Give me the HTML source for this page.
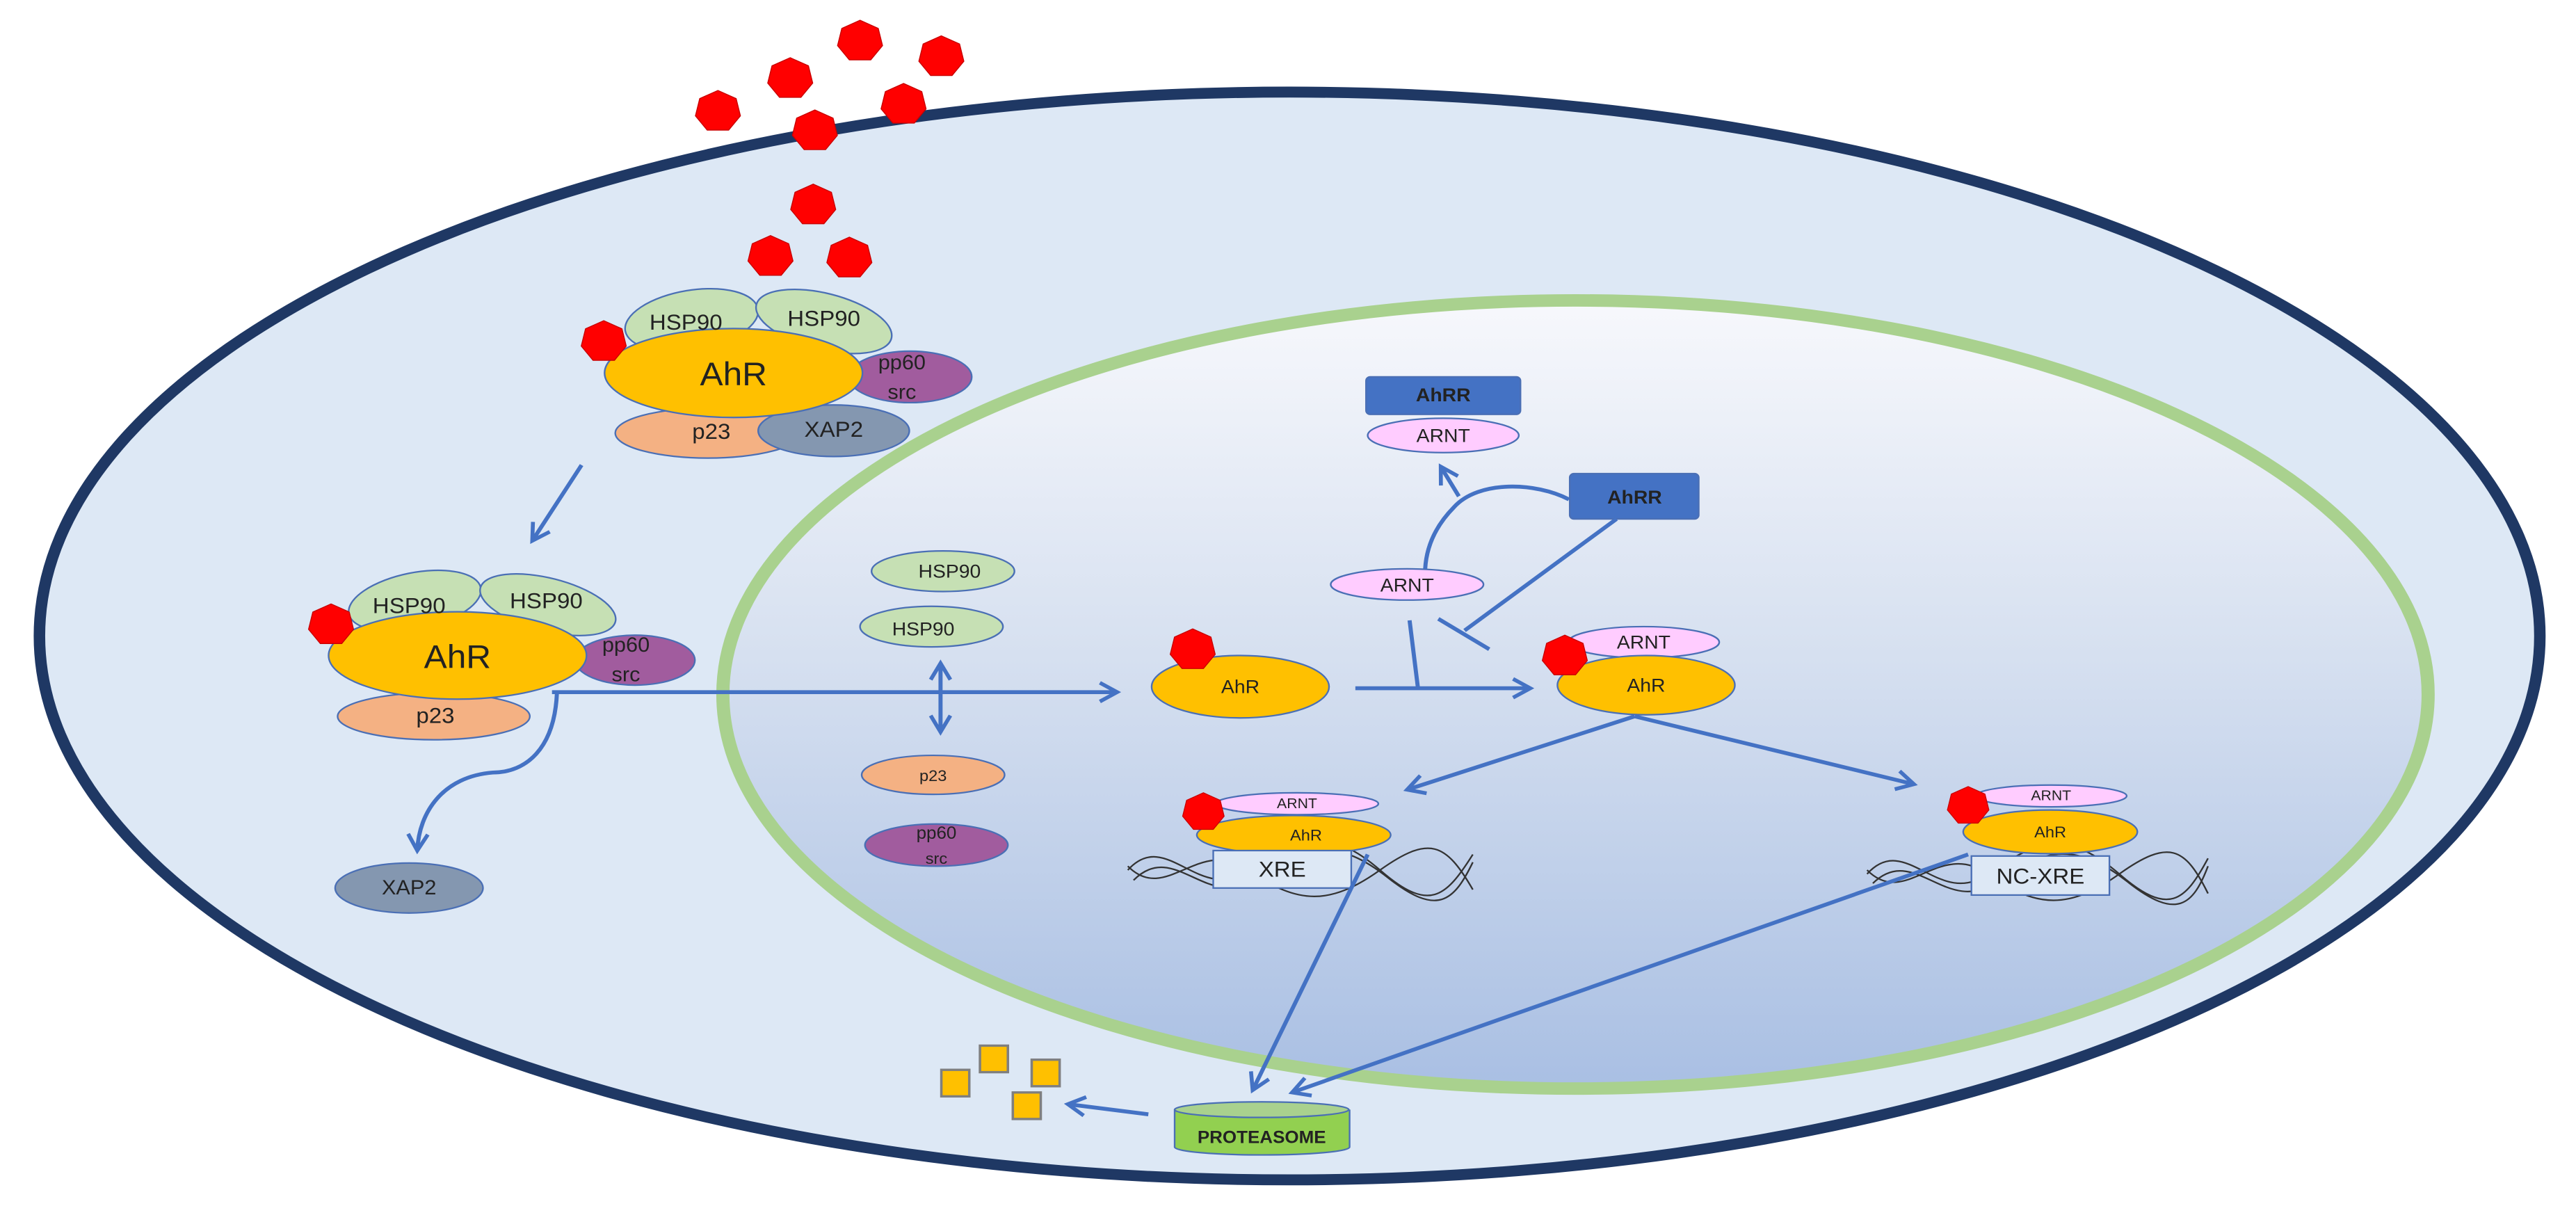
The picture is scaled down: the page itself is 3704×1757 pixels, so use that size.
<!DOCTYPE html>
<html><head><meta charset="utf-8"><style>html,body{margin:0;padding:0;background:#fff}svg{display:block}text{font-family:"Liberation Sans",sans-serif;text-anchor:middle;dominant-baseline:central;fill:#222}</style></head><body>
<svg width="3704" height="1757" viewBox="0 0 3136 1566" preserveAspectRatio="none" xmlns="http://www.w3.org/2000/svg">
<defs>
<linearGradient id="nuc" x1="0" y1="0" x2="0" y2="1"><stop offset="0" stop-color="#f7f8fc"/><stop offset="0.45" stop-color="#d6e0f0"/><stop offset="1" stop-color="#a9bfe3"/></linearGradient>
<marker id="ar" viewBox="0 0 10 10" refX="8" refY="5" markerWidth="6" markerHeight="6" orient="auto-start-reverse"><path d="M1,1 L8,5 L1,9" fill="none" stroke="#4472c4" stroke-width="1.6"/></marker>
<polygon id="hep" points="0,-20 17,-12 21,5 10,19 -10,19 -21,5 -17,-12" fill="#ff0000" stroke="#c00" stroke-width="1"/>
</defs>
<ellipse cx="1570" cy="815" rx="1522" ry="697" fill="#dde8f5" stroke="#1f3864" stroke-width="14"/>
<ellipse cx="1918" cy="890" rx="1038" ry="505" fill="url(#nuc)" stroke="#a9d18e" stroke-width="16"/>
<g fill="#ff0000">
<use href="#hep" transform="translate(1047,52) scale(1.3)"/><use href="#hep" transform="translate(1146,72) scale(1.3)"/><use href="#hep" transform="translate(962,100) scale(1.3)"/><use href="#hep" transform="translate(874,142) scale(1.3)"/><use href="#hep" transform="translate(1100,133) scale(1.3)"/><use href="#hep" transform="translate(992,167) scale(1.3)"/><use href="#hep" transform="translate(990,262) scale(1.3)"/><use href="#hep" transform="translate(938,328) scale(1.3)"/><use href="#hep" transform="translate(1034,330) scale(1.3)"/>
</g>
<g stroke="#4a6fb5" stroke-width="2">
<ellipse cx="842" cy="410" rx="82" ry="38" transform="rotate(-10 842 410)" fill="#c6e0b4"/>
<ellipse cx="1003" cy="412" rx="85" ry="36" transform="rotate(15 1003 412)" fill="#c6e0b4"/>
<ellipse cx="1108" cy="483" rx="75" ry="33" fill="#a15c9e"/>
<ellipse cx="862" cy="555" rx="113" ry="32" fill="#f4b183"/>
<ellipse cx="1015" cy="552" rx="92" ry="33" fill="#8497b0"/>
<ellipse cx="893" cy="478" rx="157" ry="57" fill="#ffc000"/>
<ellipse cx="505" cy="770" rx="82" ry="36" transform="rotate(-12 505 770)" fill="#c6e0b4"/>
<ellipse cx="667" cy="775" rx="85" ry="34" transform="rotate(15 667 775)" fill="#c6e0b4"/>
<ellipse cx="773" cy="846" rx="73" ry="32" fill="#a15c9e"/>
<ellipse cx="528" cy="918" rx="117" ry="30" fill="#f4b183"/>
<ellipse cx="557" cy="840" rx="157" ry="56" fill="#ffc000"/>
<ellipse cx="498" cy="1138" rx="90" ry="32" fill="#8497b0"/>
<ellipse cx="1148" cy="732" rx="87" ry="26" fill="#c6e0b4"/>
<ellipse cx="1134" cy="803" rx="87" ry="26" fill="#c6e0b4"/>
<ellipse cx="1136" cy="993" rx="87" ry="25" fill="#f4b183"/>
<ellipse cx="1140" cy="1083" rx="87" ry="27" fill="#a15c9e"/>
<ellipse cx="1510" cy="880" rx="108" ry="40" fill="#ffc000"/>
<ellipse cx="1713" cy="749" rx="93" ry="20" fill="#ffccff"/>
<rect x="1663" y="483" width="188" height="48" rx="5" fill="#4472c4"/>
<ellipse cx="1757" cy="558" rx="92" ry="22" fill="#ffccff"/>
<rect x="1911" y="607" width="157" height="58" rx="5" fill="#4472c4"/>
<ellipse cx="2001" cy="823" rx="92" ry="20" fill="#ffccff"/>
<ellipse cx="2004" cy="878" rx="108" ry="38" fill="#ffc000"/>
</g>
<g fill="none" stroke="#333" stroke-width="2">
<path d="M1373,1115 C1420,1060 1460,1160 1520,1115 S1620,1060 1680,1115 S1760,1150 1793,1095"/>
<path d="M1380,1128 C1430,1075 1470,1170 1530,1125 S1630,1075 1690,1125 S1770,1155 1793,1105"/>
<path d="M1373,1110 C1420,1160 1460,1070 1520,1115 S1620,1160 1680,1115 S1760,1080 1793,1140"/>
<path d="M2273,1120 C2320,1065 2360,1165 2420,1120 S2520,1065 2580,1120 S2660,1155 2688,1100"/>
<path d="M2280,1132 C2330,1080 2370,1175 2430,1130 S2530,1080 2590,1130 S2670,1160 2688,1110"/>
<path d="M2273,1115 C2320,1165 2360,1075 2420,1120 S2520,1165 2580,1120 S2660,1085 2688,1145"/>
</g>
<g stroke="#4a6fb5" stroke-width="2">
<ellipse cx="1579" cy="1030" rx="99" ry="14" fill="#ffccff"/>
<ellipse cx="1575" cy="1070" rx="118" ry="25" fill="#ffc000"/>
<rect x="1477" y="1090" width="168" height="48" fill="#dde8f5"/>
<ellipse cx="2497" cy="1020" rx="92" ry="14" fill="#ffccff"/>
<ellipse cx="2496" cy="1066" rx="106" ry="28" fill="#ffc000"/>
<rect x="2400" y="1097" width="168" height="50" fill="#dde8f5"/>
</g>
<use href="#hep" transform="translate(735,437) scale(1.3)"/><use href="#hep" transform="translate(403,800) scale(1.3)"/><use href="#hep" transform="translate(1452,832) scale(1.3)"/><use href="#hep" transform="translate(1465,1040) scale(1.2)"/><use href="#hep" transform="translate(1905,840) scale(1.3)"/><use href="#hep" transform="translate(2396,1032) scale(1.2)"/>
<g fill="none" stroke="#4472c4" stroke-width="5">
<path d="M708,596 L648,693" marker-end="url(#ar)"/>
<path d="M672,887 L1360,887" marker-end="url(#ar)"/>
<path d="M678,888 C675,960 640,990 600,990 C540,995 510,1040 508,1090" marker-end="url(#ar)"/>
<path d="M1145,850 L1145,938" marker-end="url(#ar)" marker-start="url(#ar)"/>
<path d="M1650,882 L1863,882" marker-end="url(#ar)"/>
<path d="M1716,795 L1726,880"/>
<path d="M1910,640 C1870,618 1800,615 1770,650 C1742,680 1736,710 1735,729"/>
<path d="M1776,636 L1754,598" marker-end="url(#ar)"/>
<path d="M1968,665 L1783,808"/><path d="M1751,793 L1813,832"/>
<path d="M1990,918 L1713,1012" marker-end="url(#ar)"/>
<path d="M1990,918 L2330,1005" marker-end="url(#ar)"/>
<path d="M1665,1095 L1525,1397" marker-end="url(#ar)"/>
<path d="M2396,1095 L1573,1400" marker-end="url(#ar)"/>
<path d="M1398,1428 L1300,1415" marker-end="url(#ar)"/>
</g>
<path d="M1430,1422 L1430,1470 A106,10 0 0 0 1643,1470 L1643,1422" fill="#92d050" stroke="#4a6fb5" stroke-width="2"/>
<ellipse cx="1536" cy="1422" rx="106" ry="10" fill="#a9d18e" stroke="#4a6fb5" stroke-width="2"/>
<g fill="#ffc000" stroke="#7f7f7f" stroke-width="3">
<rect x="1146" y="1371" width="34" height="34"/><rect x="1193" y="1340" width="34" height="34"/><rect x="1256" y="1358" width="34" height="34"/><rect x="1233" y="1400" width="34" height="34"/>
</g>
<text x="893" y="480" font-size="42">AhR</text>
<text x="835" y="413" font-size="28">HSP90</text>
<text x="1003" y="408" font-size="28">HSP90</text>
<text x="1098" y="465" font-size="26">pp60</text>
<text x="1098" y="503" font-size="26">src</text>
<text x="866" y="553" font-size="28">p23</text>
<text x="1015" y="550" font-size="28">XAP2</text>
<text x="557" y="842" font-size="42">AhR</text>
<text x="498" y="776" font-size="28">HSP90</text>
<text x="665" y="770" font-size="28">HSP90</text>
<text x="762" y="827" font-size="26">pp60</text>
<text x="762" y="865" font-size="26">src</text>
<text x="530" y="917" font-size="28">p23</text>
<text x="498" y="1138" font-size="26">XAP2</text>
<text x="1156" y="732" font-size="24">HSP90</text>
<text x="1124" y="806" font-size="24">HSP90</text>
<text x="1136" y="994" font-size="20">p23</text>
<text x="1140" y="1068" font-size="22">pp60</text>
<text x="1140" y="1100" font-size="20">src</text>
<text x="1510" y="880" font-size="24">AhR</text>
<text x="1713" y="750" font-size="24">ARNT</text>
<text x="1757" y="506" font-size="24" font-weight="bold">AhRR</text>
<text x="1757" y="558" font-size="24">ARNT</text>
<text x="1990" y="637" font-size="24" font-weight="bold">AhRR</text>
<text x="2001" y="823" font-size="24">ARNT</text>
<text x="2004" y="878" font-size="24">AhR</text>
<text x="1579" y="1030" font-size="18">ARNT</text>
<text x="1590" y="1070" font-size="20">AhR</text>
<text x="1561" y="1114" font-size="28">XRE</text>
<text x="2497" y="1020" font-size="18">ARNT</text>
<text x="2496" y="1066" font-size="20">AhR</text>
<text x="2484" y="1123" font-size="28">NC-XRE</text>
<text x="1536" y="1458" font-size="22" font-weight="bold">PROTEASOME</text>
</svg>
</body></html>
